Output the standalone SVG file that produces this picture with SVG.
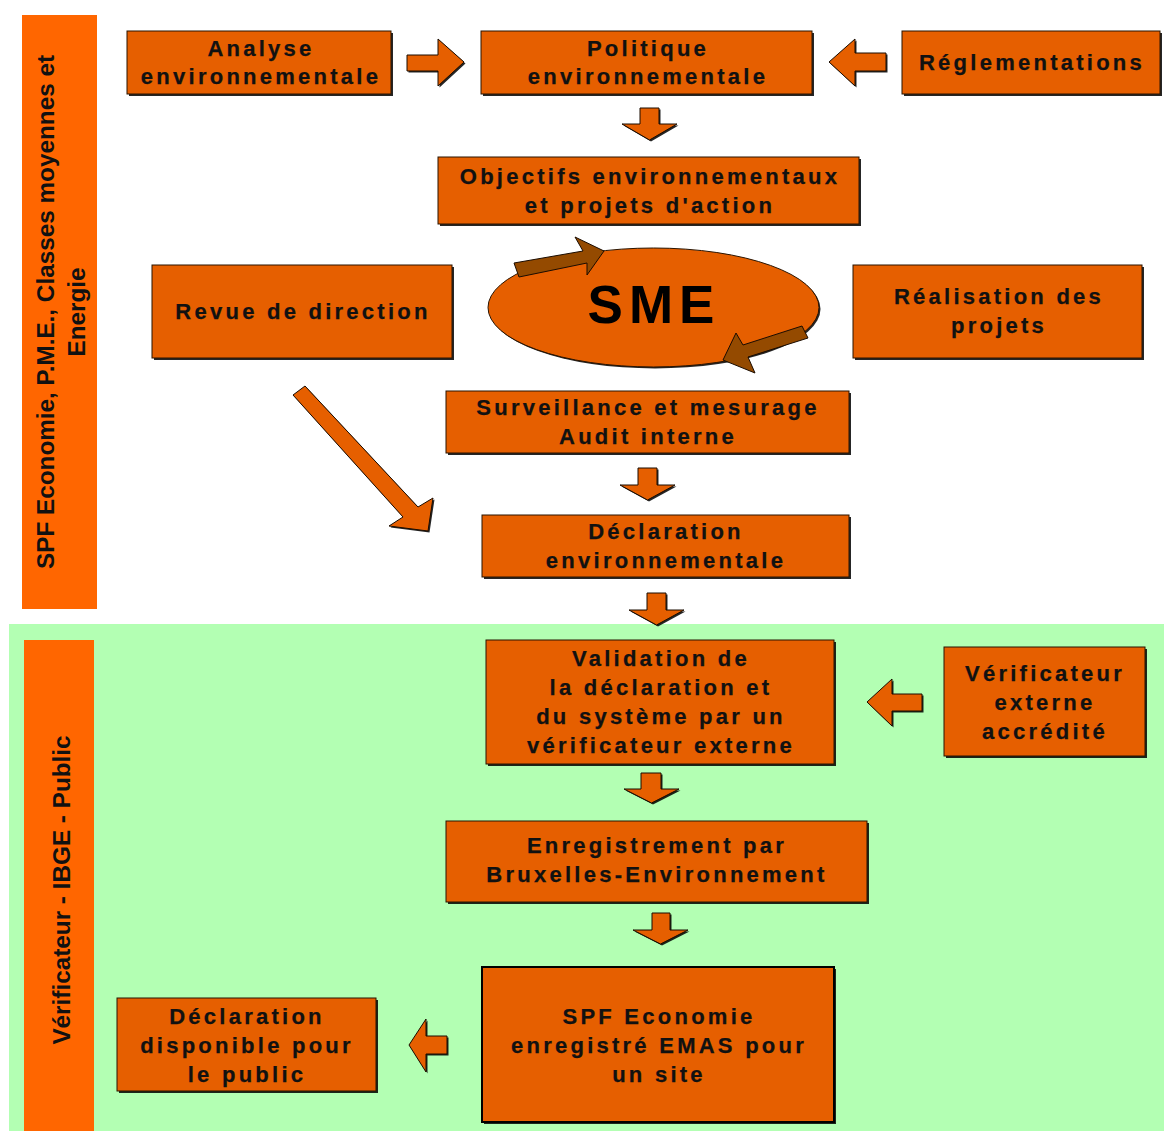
<svg xmlns="http://www.w3.org/2000/svg" width="1164" height="1131" viewBox="0 0 1164 1131">
<defs>
<style>
.bar{fill:#FF6600;}
.sh{fill:#000;opacity:0.85;}
.box{fill:#E65F00;stroke:#2a1400;stroke-width:1;}
.arr{fill:#E65F00;stroke:#1a0c00;stroke-width:1;stroke-linejoin:miter;}
.brn{fill:#944A00;stroke:#1a0c00;stroke-width:1;}
.t{font-family:"Liberation Sans",Arial,sans-serif;font-weight:bold;font-size:22px;letter-spacing:3.25px;fill:#111;stroke:#111;stroke-width:0.25px;text-anchor:middle;}
.v{font-family:"Liberation Sans",Arial,sans-serif;font-weight:bold;font-size:24.3px;fill:#111;text-anchor:middle;}
.sme{font-family:"Liberation Sans",Arial,sans-serif;font-weight:bold;font-size:53px;letter-spacing:6px;fill:#000;text-anchor:middle;}
</style>
</defs>
<rect x="0" y="0" width="1164" height="1131" fill="#ffffff"/>
<rect x="9" y="624" width="1155" height="507" fill="#B3FFB3"/>

<g id="bar-top">
<rect class="bar" x="22" y="15" width="75" height="594"/>
<text class="v" transform="translate(54,312) rotate(-90)">SPF Economie, P.M.E., Classes moyennes et</text>
<text class="v" transform="translate(85,312) rotate(-90)">Energie</text>
</g>
<g id="bar-bottom">
<rect class="bar" x="24" y="640" width="70" height="491"/>
<text class="v" transform="translate(70,890) rotate(-90)">Vérificateur - IBGE - Public</text>
</g>

<g id="connectors">
<g transform="translate(1.5,1.5)" class="sh">
<polygon points="407,55 438,55 438,39 464,62 438,86 438,71 407,71"/>
<polygon points="886,53 855,53 855,39 829,62 855,86 855,71 886,71"/>
<polygon points="640,108 659,108 659,124 677,124 649.5,140 622,124 640,124"/>
<polygon points="638,468 657,468 657,485 675,485 647.5,500 620,485 638,485"/>
<polygon points="647,593 666,593 666,610 684,610 656.5,625 629,610 647,610"/>
<polygon points="641,773 661,773 661,789 679,789 651.5,803 624,789 641,789"/>
<polygon points="652,913 670,913 670,930 688,930 660.5,944 633,930 652,930"/>
<polygon points="922,694 892,694 892,679 867,702 892,726 892,711 922,711"/>
<polygon points="447,1036 426,1036 426,1019 409,1045 426,1072 426,1054 447,1054"/>
<polygon points="305,386 418,507 433,498 428,531 389,526 403,517 293,395"/>
</g>
<polygon class="arr" points="407,55 438,55 438,39 464,62 438,86 438,71 407,71"/>
<polygon class="arr" points="886,53 855,53 855,39 829,62 855,86 855,71 886,71"/>
<polygon class="arr" points="640,108 659,108 659,124 677,124 649.5,140 622,124 640,124"/>
<polygon class="arr" points="638,468 657,468 657,485 675,485 647.5,500 620,485 638,485"/>
<polygon class="arr" points="647,593 666,593 666,610 684,610 656.5,625 629,610 647,610"/>
<polygon class="arr" points="641,773 661,773 661,789 679,789 651.5,803 624,789 641,789"/>
<polygon class="arr" points="652,913 670,913 670,930 688,930 660.5,944 633,930 652,930"/>
<polygon class="arr" points="922,694 892,694 892,679 867,702 892,726 892,711 922,711"/>
<polygon class="arr" points="447,1036 426,1036 426,1019 409,1045 426,1072 426,1054 447,1054"/>
<polygon class="arr" points="305,386 418,507 433,498 428,531 389,526 403,517 293,395"/>
</g>

<g id="n-analyse">
<rect class="sh" x="129" y="33" width="264" height="63"/>
<rect class="box" x="127" y="31" width="264" height="63"/>
<text class="t" x="261" y="56">Analyse</text>
<text class="t" x="261" y="84">environnementale</text>
</g>
<g id="n-politique">
<rect class="sh" x="483" y="33" width="331" height="63"/>
<rect class="box" x="481" y="31" width="331" height="63"/>
<text class="t" x="648" y="56">Politique</text>
<text class="t" x="648" y="84">environnementale</text>
</g>
<g id="n-reglementations">
<rect class="sh" x="904" y="33" width="258" height="63"/>
<rect class="box" x="902" y="31" width="258" height="63"/>
<text class="t" x="1032" y="70">Réglementations</text>
</g>
<g id="n-objectifs">
<rect class="sh" x="440" y="159" width="421" height="67"/>
<rect class="box" x="438" y="157" width="421" height="67"/>
<text class="t" x="650" y="184">Objectifs environnementaux</text>
<text class="t" x="650" y="213">et projets d'action</text>
</g>
<g id="n-revue">
<rect class="sh" x="154" y="267" width="300" height="93"/>
<rect class="box" x="152" y="265" width="300" height="93"/>
<text class="t" x="303" y="319">Revue de direction</text>
</g>
<g id="n-sme">
<ellipse class="sh" cx="655" cy="309" rx="165.5" ry="59.5"/>
<ellipse class="box" cx="653.5" cy="307.5" rx="165.5" ry="59.5"/>
<text class="sme" x="654" y="323">SME</text>
<polygon class="brn" points="514,263 583,251 575,237 604,251 587,275 587,263 519,277"/>
<polygon class="brn" points="802,326 743,345 736,333 723,360 755,373 748,357 808,338"/>
</g>
<g id="n-realisation">
<rect class="sh" x="855" y="267" width="289" height="93"/>
<rect class="box" x="853" y="265" width="289" height="93"/>
<text class="t" x="999" y="304">Réalisation des</text>
<text class="t" x="999" y="333">projets</text>
</g>
<g id="n-surveillance">
<rect class="sh" x="448" y="393" width="403" height="62"/>
<rect class="box" x="446" y="391" width="403" height="62"/>
<text class="t" x="648" y="415">Surveillance et mesurage</text>
<text class="t" x="648" y="444">Audit interne</text>
</g>
<g id="n-declaration">
<rect class="sh" x="484" y="517" width="367" height="62"/>
<rect class="box" x="482" y="515" width="367" height="62"/>
<text class="t" x="666" y="539">Déclaration</text>
<text class="t" x="666" y="568">environnementale</text>
</g>
<g id="n-validation">
<rect class="sh" x="488" y="642" width="348" height="124"/>
<rect class="box" x="486" y="640" width="348" height="124"/>
<text class="t" x="661" y="666">Validation de</text>
<text class="t" x="661" y="695">la déclaration et</text>
<text class="t" x="661" y="724">du système par un</text>
<text class="t" x="661" y="753">vérificateur externe</text>
</g>
<g id="n-verificateur">
<rect class="sh" x="946" y="649" width="201" height="109"/>
<rect class="box" x="944" y="647" width="201" height="109"/>
<text class="t" x="1045" y="681">Vérificateur</text>
<text class="t" x="1045" y="710">externe</text>
<text class="t" x="1045" y="739">accrédité</text>
</g>
<g id="n-enregistrement">
<rect class="sh" x="448" y="823" width="421" height="81"/>
<rect class="box" x="446" y="821" width="421" height="81"/>
<text class="t" x="657" y="853">Enregistrement par</text>
<text class="t" x="657" y="882">Bruxelles-Environnement</text>
</g>
<g id="n-spf">
<rect class="sh" x="484" y="969" width="352" height="155"/>
<rect class="box" x="482" y="967" width="352" height="155" style="stroke:#000;stroke-width:2"/>
<text class="t" x="659" y="1024">SPF Economie</text>
<text class="t" x="659" y="1053">enregistré EMAS pour</text>
<text class="t" x="659" y="1082">un site</text>
</g>
<g id="n-public">
<rect class="sh" x="119" y="1000" width="259" height="93"/>
<rect class="box" x="117" y="998" width="259" height="93"/>
<text class="t" x="247" y="1024">Déclaration</text>
<text class="t" x="247" y="1053">disponible pour</text>
<text class="t" x="247" y="1082">le public</text>
</g>
</svg>
